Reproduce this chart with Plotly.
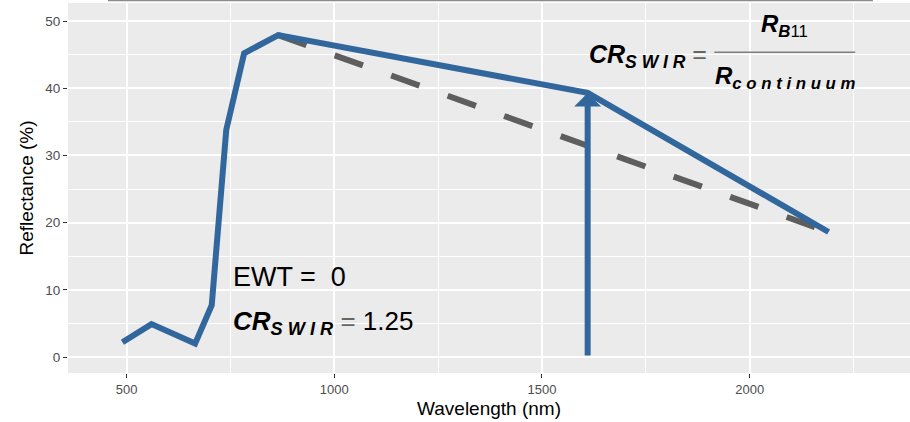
import plotly.graph_objects as go

# ---- data ----
bands = ["B2", "B3", "B4", "B5", "B6", "B7", "B8A", "B11", "B12"]
wavelength = [490, 560, 665, 705, 740, 783, 865, 1610, 2190]
reflectance = [2.2, 4.9, 2.0, 7.7, 33.8, 45.2, 47.9, 39.3, 18.6]
continuum_wl = [865, 2190]
continuum_refl = [47.9, 18.6]
b11_wl = 1610
b11_refl = 39.3
ewt_value = 0
cr_swir_value = 1.25
x_ticks = [500, 1000, 1500, 2000]
y_ticks = [0, 10, 20, 30, 40, 50]

BLUE = "#32679D"
GRAY = "#5E5E5E"
FONT = "Liberation Sans, Arial, sans-serif"

fig = go.Figure()

fig.add_trace(go.Scatter(
    x=continuum_wl, y=continuum_refl, mode="lines",
    line=dict(color=GRAY, width=6, dash="30px,30px"),
    hoverinfo="skip", showlegend=False))

fig.add_trace(go.Scatter(
    x=wavelength, y=reflectance, mode="lines",
    line=dict(color=BLUE, width=6),
    text=bands, hoverinfo="x+y+text", showlegend=False))

# arrow from 0 up to B11 reflectance
fig.add_annotation(
    x=b11_wl, y=b11_refl, ax=b11_wl, ay=0, xref="x", yref="y",
    axref="x", ayref="y", text="", showarrow=True,
    arrowhead=1, arrowsize=0.75, arrowwidth=6, arrowcolor=BLUE, standoff=0)

def cr_html():
    return "<b><i>CR</i></b><sub><b><i>S W I R</i></b></sub>"

# bottom-left text
fig.add_annotation(
    x=752, y=11.85, xref="x", yref="y", xanchor="left", yanchor="middle",
    text=f"EWT =  {ewt_value}", showarrow=False,
    font=dict(family=FONT, size=27, color="black"))
fig.add_annotation(
    x=752, y=5.1, xref="x", yref="y", xanchor="left", yanchor="middle",
    text=cr_html() + " <span style='color:#666666'>=</span> " + f"{cr_swir_value}",
    showarrow=False, font=dict(family=FONT, size=26, color="black"))

# top-right equation
fig.add_annotation(
    x=1902, y=44.8, xref="x", yref="y", xanchor="right", yanchor="middle",
    text=cr_html() + " <span style='color:#666666'>=</span>",
    showarrow=False, font=dict(family=FONT, size=25, color="black"))
fig.add_annotation(
    x=2085, y=49.3, xref="x", yref="y", xanchor="center", yanchor="middle",
    text="<b><i>R</i></b><sub><b><i>B</i></b>11</sub>",
    showarrow=False, font=dict(family=FONT, size=24, color="black"))
fig.add_annotation(
    x=2085, y=41.6, xref="x", yref="y", xanchor="center", yanchor="middle",
    text="<b><i>R</i></b><sub><b><i>c o n t i n u u m</i></b></sub>",
    showarrow=False, font=dict(family=FONT, size=24, color="black"))
fig.add_shape(type="line", x0=1915, x1=2254, y0=45.35, y1=45.35,
              xref="x", yref="y", line=dict(color="#7F7F7F", width=1.5))

# gray line at top edge (clipped element above the panel)
fig.add_shape(type="line", xref="paper", yref="paper",
              x0=0.0475, x1=0.956, y0=1.0075, y1=1.0075,
              line=dict(color="#8C8C8C", width=2))

fig.update_layout(
    width=910, height=422,
    margin=dict(l=68, r=0, t=3, b=49),
    paper_bgcolor="white", plot_bgcolor="#EBEBEB",
    font=dict(family=FONT),
    showlegend=False,
)
fig.update_xaxes(
    range=[359, 2386], tickvals=x_ticks, ticktext=[str(v) for v in x_ticks],
    showgrid=True, gridcolor="white", gridwidth=1.6, zeroline=False,
    ticks="outside", ticklen=4, tickcolor="#333333", tickwidth=1.2,
    tickfont=dict(family=FONT, size=13, color="#4D4D4D"),
    minor=dict(tickvals=[750, 1250, 1750, 2250], showgrid=True,
               gridcolor="white", gridwidth=0.8, ticks=""),
    title=dict(text="Wavelength (nm)", font=dict(family=FONT, size=19, color="black"), standoff=6),
    showline=False,
)
fig.update_yaxes(
    range=[-2.38, 52.68], tickvals=y_ticks, ticktext=[str(v) for v in y_ticks],
    showgrid=True, gridcolor="white", gridwidth=1.6, zeroline=False,
    ticks="outside", ticklen=4, tickcolor="#333333", tickwidth=1.2,
    tickfont=dict(family=FONT, size=13.5, color="#4D4D4D"),
    minor=dict(tickvals=[5, 15, 25, 35, 45], showgrid=True,
               gridcolor="white", gridwidth=0.8, ticks=""),
    title=dict(text="Reflectance (%)", font=dict(family=FONT, size=19, color="black"), standoff=6),
    showline=False,
)

fig.write_html("out.html")
